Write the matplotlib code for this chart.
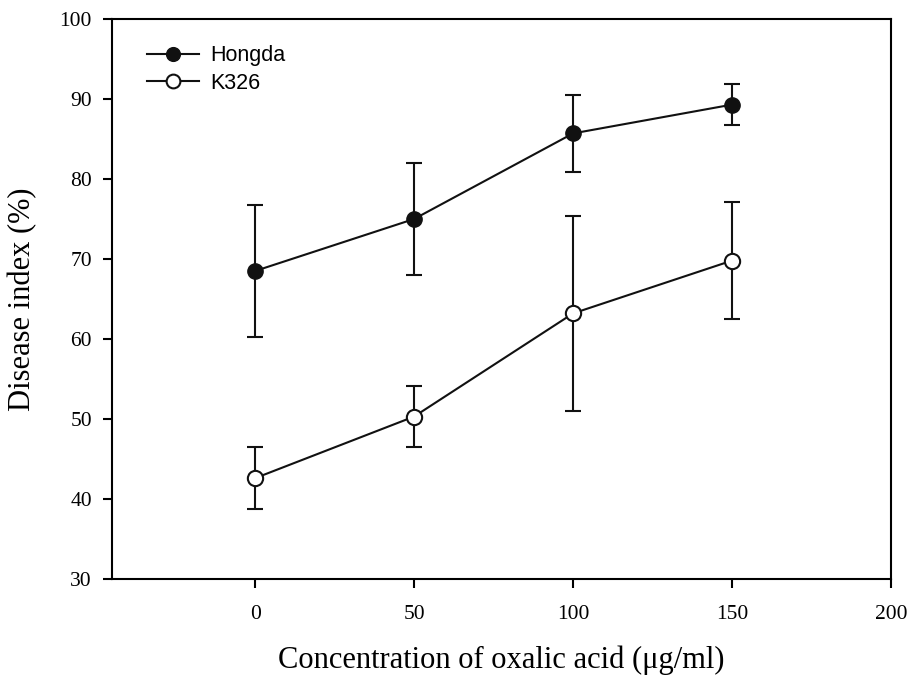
import matplotlib.pyplot as plt

conc = [0, 50, 100, 150]
hongda = [68.5, 75.0, 85.7, 89.3]
hongda_err = [8.2, 7.0, 4.8, 2.6]
k326 = [42.6, 50.3, 63.2, 69.8]
k326_err = [3.9, 3.8, 12.2, 7.3]

fig = plt.figure(figsize=(9.09, 6.77), dpi=100)
ax = fig.add_axes([0.1232, 0.1448, 0.857, 0.8271])

ink = '#111111'
# error bars first, then the lines with markers on top
ax.errorbar(conc, hongda, yerr=hongda_err, fmt='none', ecolor=ink,
            elinewidth=1.5, capsize=6, capthick=1.5, zorder=2)
ax.errorbar(conc, k326, yerr=k326_err, fmt='none', ecolor=ink,
            elinewidth=1.5, capsize=6, capthick=1.5, zorder=2)
ax.plot(conc, hongda, color=ink, marker='o', markersize=11, linewidth=1.5,
        markerfacecolor=ink, markeredgecolor=ink, label='Hongda', zorder=3)
ax.plot(conc, k326, color=ink, marker='o', markersize=11, linewidth=1.5,
        markerfacecolor='white', markeredgecolor=ink, markeredgewidth=1.5,
        label='K326', zorder=3)

ax.set_xlim(-45, 200)
ax.set_ylim(30, 100)
ax.set_xticks([0, 50, 100, 150, 200])
ax.set_yticks(range(30, 101, 10))
ax.tick_params(direction='out', length=6.5, width=1.5, labelsize=15.5,
               top=False, right=False)
ax.tick_params(axis='y', pad=8)
ax.tick_params(axis='x', pad=12)
for lab in ax.get_xticklabels() + ax.get_yticklabels():
    lab.set_family('Liberation Serif')
for s in ax.spines.values():
    s.set_linewidth(1.5)

ax.set_xlabel('Concentration of oxalic acid (\u03bcg/ml)', family='Liberation Serif',
              fontsize=22, labelpad=16)
ax.set_ylabel('Disease index (%)', family='Liberation Serif', fontsize=22,
              labelpad=16)

ax.legend(loc='upper left', frameon=False,
          prop={'family': 'Liberation Sans', 'size': 15.5},
          handlelength=2.4, handletextpad=0.55, labelspacing=0.3,
          markerscale=0.9, borderpad=0, borderaxespad=0,
          bbox_to_anchor=(0.045, 0.953))

fig.savefig('out.png', dpi=100)
